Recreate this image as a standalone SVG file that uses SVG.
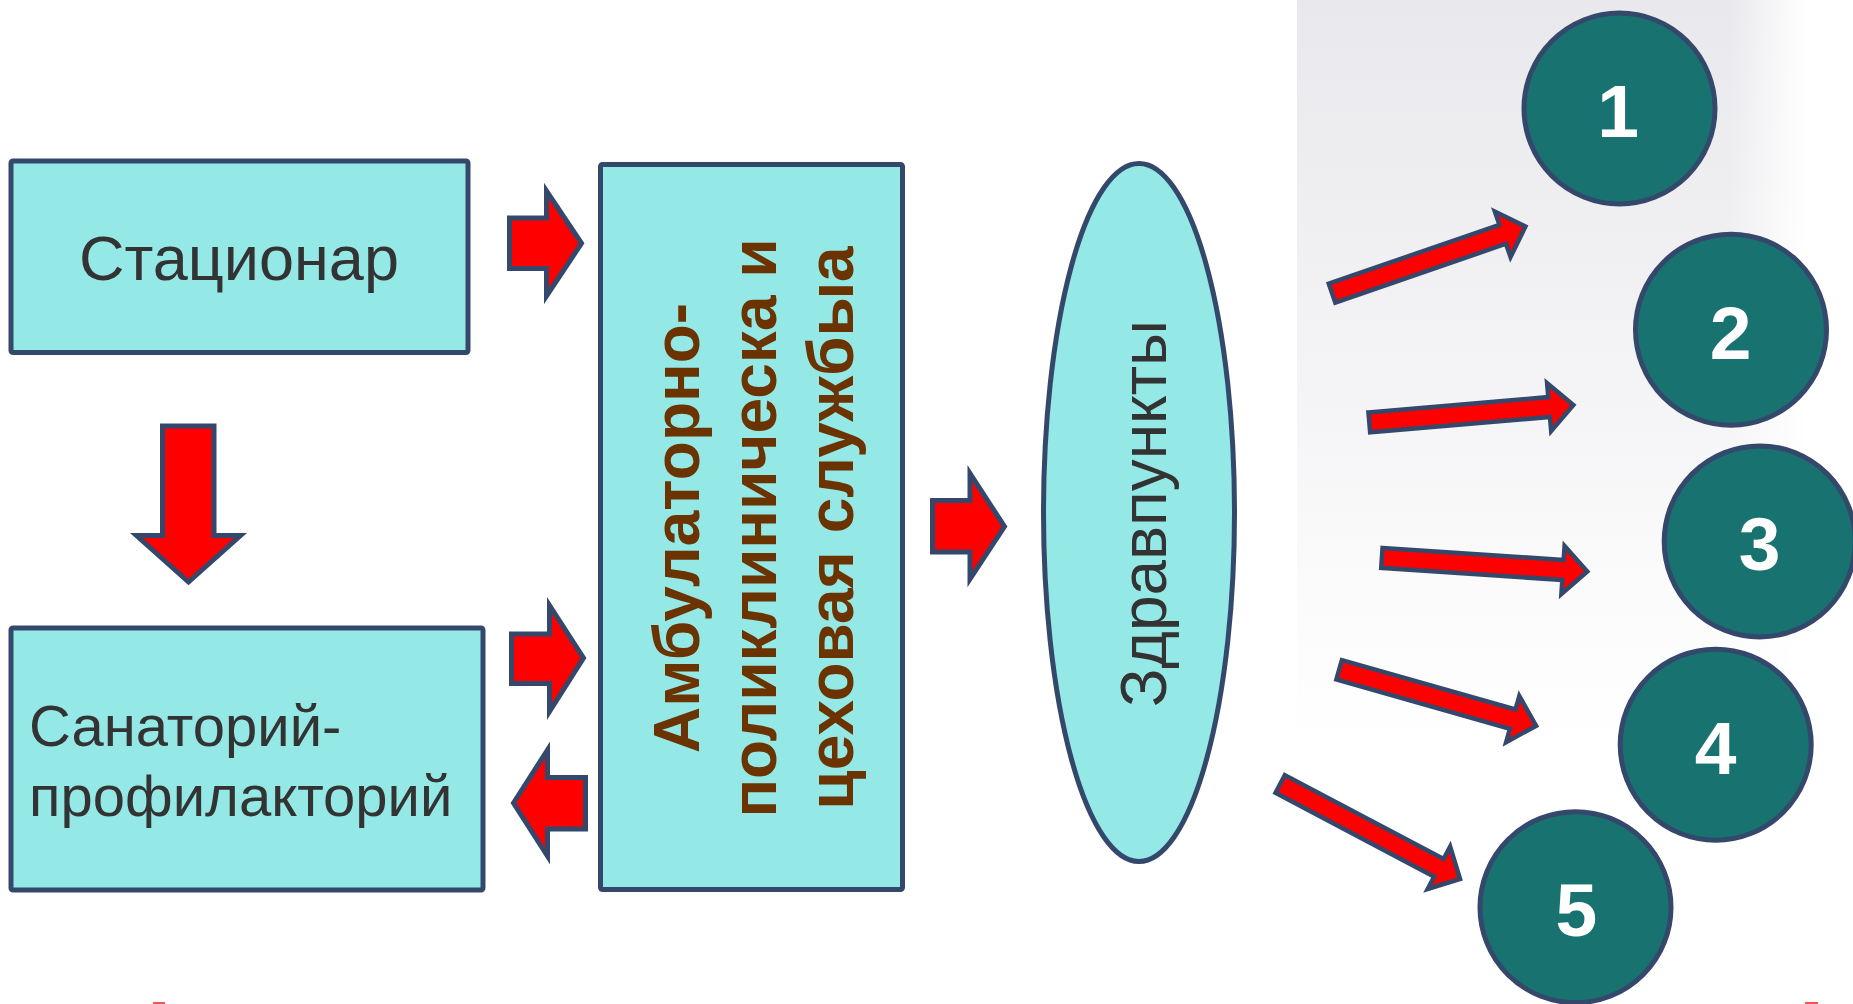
<svg xmlns="http://www.w3.org/2000/svg" width="1853" height="1004" viewBox="0 0 1853 1004">
  <defs>
    <linearGradient id="panelV" x1="0" y1="0" x2="0" y2="1">
      <stop offset="0" stop-color="#e9e9ed"/>
      <stop offset="0.35" stop-color="#f3f3f5"/>
      <stop offset="0.62" stop-color="#fcfcfd"/>
      <stop offset="0.75" stop-color="#ffffff"/>
    </linearGradient>
    <linearGradient id="panelH" x1="0" y1="0" x2="1" y2="0">
      <stop offset="0" stop-color="#fff" stop-opacity="1"/>
      <stop offset="0.85" stop-color="#fff" stop-opacity="1"/>
      <stop offset="1" stop-color="#fff" stop-opacity="0"/>
    </linearGradient>
    <mask id="panelMask">
      <rect x="1297" y="0" width="510" height="1004" fill="url(#panelH)"/>
    </mask>
    <style>
      .box { fill: #94e9e6; stroke: #34486c; stroke-width: 5; }
      .blk { fill: #ff0000; stroke: #34486c; stroke-width: 5; stroke-linejoin: miter; stroke-miterlimit: 10; }
      .thin { fill: #ff0000; stroke: #34486c; stroke-width: 4.5; stroke-linejoin: miter; stroke-miterlimit: 10; }
      .circ { fill: #187370; stroke: #34486c; stroke-width: 5; }
      .lbl { font-family: "Liberation Sans", Arial, sans-serif; fill: #333333; }
      .amb { font-family: "Liberation Sans", Arial, sans-serif; font-weight: bold; fill: #6a3300; font-size: 64px; }
      .num { font-family: "Liberation Sans", Arial, sans-serif; font-weight: bold; fill: #ffffff; font-size: 75px; text-anchor: middle; }
    </style>
  </defs>

  <rect x="0" y="0" width="1853" height="1004" fill="#ffffff"/>
  <rect x="1297" y="0" width="510" height="1004" fill="url(#panelV)" mask="url(#panelMask)"/>

  <g id="node-stacionar">
    <rect class="box" x="11" y="161" width="457" height="191.5" rx="2"/>
    <text class="lbl" x="239" y="280" font-size="63" text-anchor="middle">Стационар</text>
  </g>

  <g id="node-sanatorij">
    <rect class="box" x="11" y="628" width="472" height="262" rx="2"/>
    <text class="lbl" x="29" y="745.7" font-size="58">Санаторий-</text>
    <text class="lbl" x="29" y="816" font-size="58">профилакторий</text>
  </g>

  <g id="node-ambulatorno">
    <rect class="box" x="600.5" y="164.5" width="302" height="725" rx="2"/>
    <text class="amb" transform="translate(698.6,528) rotate(-90)" text-anchor="middle">Амбулаторно-</text>
    <text class="amb" transform="translate(776.4,528) rotate(-90)" text-anchor="middle">поликлиническа и</text>
    <text class="amb" transform="translate(853,528) rotate(-90)" text-anchor="middle">цеховая службыа</text>
  </g>

  <g id="node-zdravpunkty">
    <ellipse class="box" cx="1139" cy="512.5" rx="95.5" ry="349"/>
    <text class="lbl" transform="translate(1166,513.5) rotate(-90)" font-size="64" text-anchor="middle">Здравпункты</text>
  </g>

  <g id="node-1">
    <circle class="circ" cx="1619.5" cy="108.5" r="95.5"/>
    <text class="num" x="1618" y="136.5">1</text>
  </g>
  <g id="node-2">
    <circle class="circ" cx="1731" cy="329.7" r="95.5"/>
    <text class="num" x="1730.7" y="358.6">2</text>
  </g>
  <g id="node-3">
    <circle class="circ" cx="1759.7" cy="541.4" r="95.5"/>
    <text class="num" x="1759.7" y="570">3</text>
  </g>
  <g id="node-4">
    <circle class="circ" cx="1715.7" cy="744.7" r="95.5"/>
    <text class="num" x="1715.6" y="773.5">4</text>
  </g>
  <g id="node-5">
    <circle class="circ" cx="1575.5" cy="907.2" r="95.5"/>
    <text class="num" x="1576.4" y="936">5</text>
  </g>

  <g id="connectors">
    <polygon class="blk" points="162.5,426 214,426 214,535.5 240.5,535.5 188.5,582 136.5,535.5 162.5,535.5"/>
    <polygon class="blk" points="509.5,218 546.5,218 546.5,191 581.5,243.3 546.5,296 546.5,268.5 509.5,268.5"/>
    <polygon class="blk" points="511.5,634 549.5,634 549.5,605.5 583.5,658 549.5,711.5 549.5,683.5 511.5,683.5"/>
    <polygon class="blk" points="513.5,803 547.5,750 547.5,777.5 585.5,777.5 585.5,829 547.5,829 547.5,856"/>
    <polygon class="blk" points="932.5,500.5 970,500.5 970,473.5 1004.5,526.6 970,579 970,552 932.5,552"/>

    <polygon class="thin" transform="translate(1329.7,293.9) rotate(-19.01)" points="2.5,-10 183,-10 183,-24 207,0 183,24 183,10 2.5,10"/>
    <polygon class="thin" transform="translate(1366.8,422.6) rotate(-4.87)" points="2.5,-10 183,-10 183,-24 207.3,0 183,24 183,10 2.5,10"/>
    <polygon class="thin" transform="translate(1379.4,557.7) rotate(3.82)" points="2.5,-10 184,-10 184,-24 208.3,0 184,24 184,10 2.5,10"/>
    <polygon class="thin" transform="translate(1336.7,669.1) rotate(15.86)" points="2.5,-10 183,-10 183,-24 207.3,0 183,24 183,10 2.5,10"/>
    <polygon class="thin" transform="translate(1278,782.8) rotate(27.84)" points="2.5,-10 182,-10 182,-24 205.9,0 182,24 182,10 2.5,10"/>
  </g>

  <rect x="153" y="1002" width="12" height="2" fill="#ee5555"/>
  <rect x="1805" y="1002" width="13" height="2" fill="#ee5555"/>
</svg>
